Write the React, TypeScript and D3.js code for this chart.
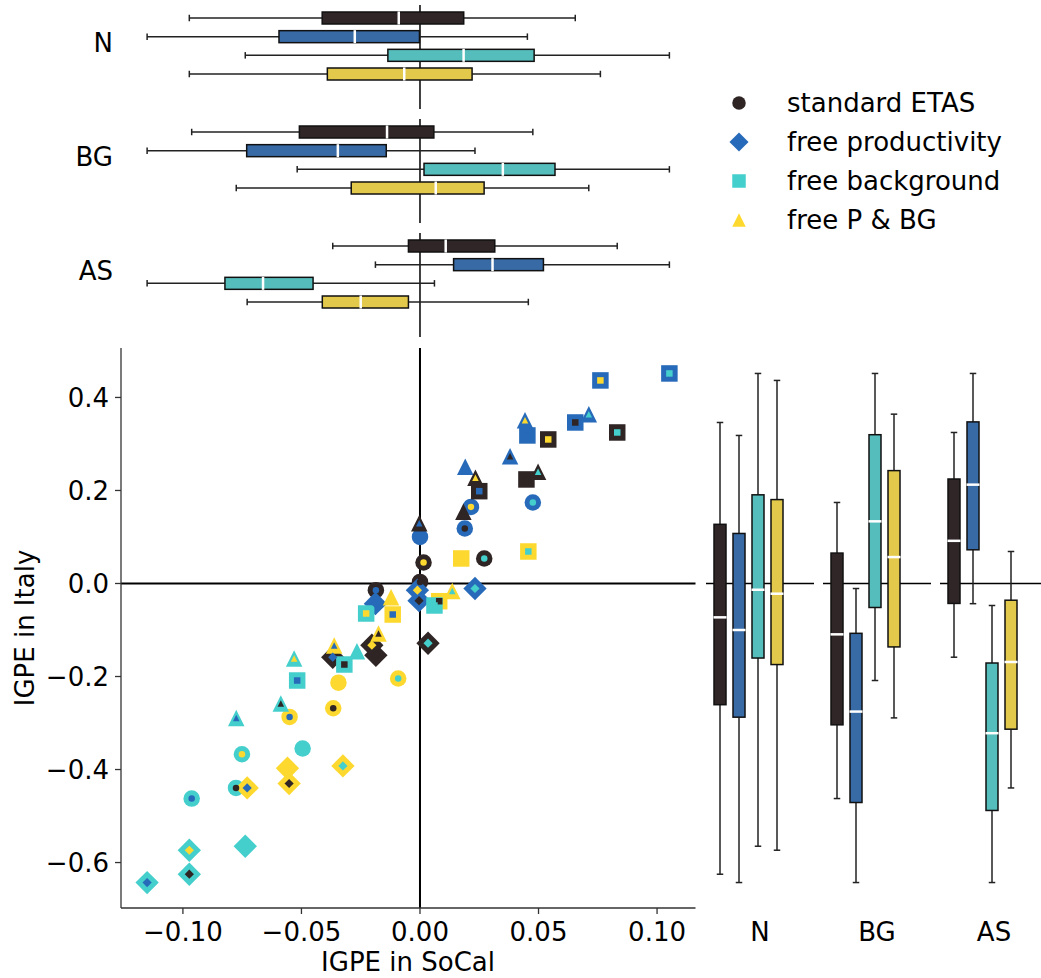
import React from "react";
import * as d3 from "d3";

// ---------------- data ----------------
const MODELS = ["standard ETAS", "free productivity", "free background", "free P & BG"];
const COMPONENTS = ["N", "BG", "AS"];

// model used for the background component -> marker shape
const bgModel = [
  0, 0, 0, 0, 0, 0, 0, 0, 0, 0, 0, 0, 0, 0, 0, 0,
  1, 1, 1, 1, 1, 1, 1, 1, 1, 1, 1, 1, 1, 1, 1, 1,
  2, 2, 2, 2, 2, 2, 2, 2, 2, 2, 2, 2, 2, 2, 2, 2,
  3, 3, 3, 3, 3, 3, 3, 3, 3, 3, 3, 3, 3, 3, 3, 3,
];
// model used for the aftershock component -> outer colour
const asModel = [
  0, 0, 0, 0, 1, 1, 1, 1, 2, 2, 2, 2, 3, 3, 3, 3,
  0, 0, 0, 0, 1, 1, 1, 1, 2, 2, 2, 2, 3, 3, 3, 3,
  0, 0, 0, 0, 1, 1, 1, 1, 2, 2, 2, 2, 3, 3, 3, 3,
  0, 0, 0, 0, 1, 1, 1, 1, 2, 2, 2, 2, 3, 3, 3, 3,
];
// model used for the number component -> inner colour
const nModel = [
  0, 1, 2, 3, 0, 1, 2, 3, 0, 1, 2, 3, 0, 1, 2, 3,
  0, 1, 2, 3, 0, 1, 2, 3, 0, 1, 2, 3, 0, 1, 2, 3,
  0, 1, 2, 3, 0, 1, 2, 3, 0, 1, 2, 3, 0, 1, 2, 3,
  0, 1, 2, 3, 0, 1, 2, 3, 0, 1, 2, 3, 0, 1, 2, 3,
];

const igpeSoCal = [
  0.0000, -0.0186, 0.0271, 0.0015, 0.0189, 0.0000, 0.0476, 0.0215,
  -0.0776, -0.0963, -0.0495, -0.0751, -0.0366, -0.0550, -0.0092, -0.0344,
  -0.0186, -0.0368, 0.0034, -0.0203, -0.0004, -0.0188, 0.0232, -0.0011,
  -0.0973, -0.1151, -0.0737, -0.0973, -0.0552, -0.0729, -0.0325, -0.0559,
  0.0449, 0.0250, 0.0832, 0.0541, 0.0655, 0.0453, 0.1052, 0.0761,
  -0.0319, -0.0518, 0.0061, -0.0227, 0.0081, -0.0115, 0.0457, 0.0174,
  0.0183, -0.0003, 0.0498, 0.0234, 0.0380, 0.0191, 0.0712, 0.0443,
  -0.0587, -0.0775, -0.0266, -0.0531, -0.0175, -0.0362, 0.0136, -0.0122,
];
const igpeItaly = [
  0.0034, -0.0144, 0.0538, 0.0452, 0.1183, 0.1002, 0.1742, 0.1647,
  -0.4396, -0.4624, -0.3548, -0.3671, -0.2682, -0.2869, -0.2043, -0.2133,
  -0.1542, -0.1585, -0.1284, -0.1327, -0.0370, -0.0434, -0.0108, -0.0144,
  -0.6251, -0.6430, -0.5649, -0.5735, -0.4301, -0.4396, -0.3923, -0.3972,
  0.2237, 0.1985, 0.3247, 0.3097, 0.3462, 0.3183, 0.4516, 0.4366,
  -0.1742, -0.2086, -0.0473, -0.0645, -0.0381, -0.0667, 0.0688, 0.0538,
  0.1540, 0.1297, 0.2400, 0.2275, 0.2738, 0.2508, 0.3641, 0.3512,
  -0.2581, -0.2890, -0.1456, -0.1613, -0.1075, -0.1333, -0.0161, -0.0295,
];

const xTicks = [-0.1, -0.05, 0, 0.05, 0.1];
const yTicks = [-0.6, -0.4, -0.2, 0, 0.2, 0.4];

// ---------------- styles ----------------
const MARKER_COLORS = ["#2f2525", "#276ab9", "#45cfcc", "#fdd92f"];
const BOX_COLORS = ["#302627", "#386ba6", "#55bdbb", "#e3c94b"];
const FONT = "DejaVu Sans, Verdana, sans-serif";
const FS = 26;

function markerPath(shape: number, d: number): string {
  const p = d3.path();
  const h = d / 2;
  if (shape === 0) {
    p.moveTo(h, 0);
    p.arc(0, 0, h, 0, 2 * Math.PI);
  } else if (shape === 1) {
    const r = h * Math.SQRT2;
    p.moveTo(0, -r);
    p.lineTo(r, 0);
    p.lineTo(0, r);
    p.lineTo(-r, 0);
    p.closePath();
  } else if (shape === 2) {
    p.rect(-h, -h, d, d);
  } else {
    p.moveTo(0, -h);
    p.lineTo(h, h);
    p.lineTo(-h, h);
    p.closePath();
  }
  return p.toString();
}

function boxStats(vals: number[]) {
  const s = vals.slice().sort(d3.ascending);
  return {
    min: s[0],
    q1: d3.quantile(s, 0.25) as number,
    med: d3.quantile(s, 0.5) as number,
    q3: d3.quantile(s, 0.75) as number,
    max: s[s.length - 1],
  };
}

export default function App() {
  const [xmin, xmax] = d3.extent(igpeSoCal) as [number, number];
  const [ymin, ymax] = d3.extent(igpeItaly) as [number, number];
  const px = (xmax - xmin) * 0.05;
  const py = (ymax - ymin) * 0.05;
  const x = d3.scaleLinear().domain([xmin - px, xmax + px]).range([121, 695.5]);
  const y = d3.scaleLinear().domain([ymin - py, ymax + py]).range([908, 348]);

  const compModels = [nModel, bgModel, asModel];
  const idx = d3.range(igpeSoCal.length);
  const drawOrder = idx
    .slice()
    .sort((a, b) => bgModel[a] - bgModel[b] || nModel[a] - nModel[b] || asModel[a] - asModel[b]);

  const topGroupTop = [5, 119, 233];
  const topGroupH = 104;
  const rowPos = d3.scaleLinear().domain([0, 3]).range([13, 69]);
  const rightGroupLeft = [706, 823, 940];
  const rightGroupW = 108;
  const colPos = d3.scaleLinear().domain([0, 3]).range([14, 71]);
  const boxT = 12;
  const cap = 6.5;

  const fmtX = d3.format(".2f");
  const fmtY = d3.format(".1f");

  const OUT = 16.5;
  const IN = 6.5;

  return (
    <svg
      width={1041}
      height={978}
      style={{ position: "absolute", left: 0, top: 0, background: "#fff" }}
      fontFamily={FONT}
    >
      <rect width={1041} height={978} fill="#fff" />

      {/* ---------- top box plots (SoCal) ---------- */}
      {COMPONENTS.map((comp, c) => {
        const top = topGroupTop[c];
        return (
          <g key={"top" + comp}>
            <line x1={x(0)} x2={x(0)} y1={top} y2={top + topGroupH} stroke="#000" strokeWidth={1.5} />
            <text x={113} y={top + 47} fontSize={FS} textAnchor="end" fill="#000">
              {comp}
            </text>
            {MODELS.map((_, m) => {
              const vals = idx.filter((i) => compModels[c][i] === m).map((i) => igpeSoCal[i]);
              const s = boxStats(vals);
              const cy = top + rowPos(m);
              return (
                <g key={m}>
                  <line x1={x(s.min)} x2={x(s.q1)} y1={cy} y2={cy} stroke="#222" strokeWidth={1.5} />
                  <line x1={x(s.q3)} x2={x(s.max)} y1={cy} y2={cy} stroke="#222" strokeWidth={1.5} />
                  <line x1={x(s.min)} x2={x(s.min)} y1={cy - cap / 2} y2={cy + cap / 2} stroke="#222" strokeWidth={1.5} />
                  <line x1={x(s.max)} x2={x(s.max)} y1={cy - cap / 2} y2={cy + cap / 2} stroke="#222" strokeWidth={1.5} />
                  <rect
                    x={x(s.q1)}
                    y={cy - boxT / 2}
                    width={x(s.q3) - x(s.q1)}
                    height={boxT}
                    fill={BOX_COLORS[m]}
                    stroke="#111"
                    strokeWidth={1.5}
                  />
                  <line x1={x(s.med)} x2={x(s.med)} y1={cy - boxT / 2 - 0.5} y2={cy + boxT / 2 + 0.5} stroke="#fff" strokeWidth={2.5} />
                </g>
              );
            })}
          </g>
        );
      })}

      {/* ---------- right box plots (Italy) ---------- */}
      {COMPONENTS.map((comp, c) => {
        const left = rightGroupLeft[c];
        return (
          <g key={"right" + comp}>
            <line x1={left} x2={left + rightGroupW} y1={y(0)} y2={y(0)} stroke="#000" strokeWidth={1.5} />
            <text x={left + 54} y={941} fontSize={FS} textAnchor="middle" fill="#000">
              {comp}
            </text>
            {MODELS.map((_, m) => {
              const vals = idx.filter((i) => compModels[c][i] === m).map((i) => igpeItaly[i]);
              const s = boxStats(vals);
              const cx = left + colPos(m);
              return (
                <g key={m}>
                  <line x1={cx} x2={cx} y1={y(s.min)} y2={y(s.q1)} stroke="#222" strokeWidth={1.5} />
                  <line x1={cx} x2={cx} y1={y(s.q3)} y2={y(s.max)} stroke="#222" strokeWidth={1.5} />
                  <line x1={cx - cap / 2} x2={cx + cap / 2} y1={y(s.min)} y2={y(s.min)} stroke="#222" strokeWidth={1.5} />
                  <line x1={cx - cap / 2} x2={cx + cap / 2} y1={y(s.max)} y2={y(s.max)} stroke="#222" strokeWidth={1.5} />
                  <rect
                    x={cx - boxT / 2}
                    y={y(s.q3)}
                    width={boxT}
                    height={y(s.q1) - y(s.q3)}
                    fill={BOX_COLORS[m]}
                    stroke="#111"
                    strokeWidth={1.5}
                  />
                  <line x1={cx - boxT / 2 - 0.5} x2={cx + boxT / 2 + 0.5} y1={y(s.med)} y2={y(s.med)} stroke="#fff" strokeWidth={2.5} />
                </g>
              );
            })}
          </g>
        );
      })}

      {/* ---------- scatter ---------- */}
      <line x1={x.range()[0]} x2={x.range()[1]} y1={y(0)} y2={y(0)} stroke="#000" strokeWidth={2} />
      <line x1={x(0)} x2={x(0)} y1={y.range()[1]} y2={y.range()[0]} stroke="#000" strokeWidth={2} />

      {drawOrder.map((i) => (
        <path
          key={"o" + i}
          d={markerPath(bgModel[i], OUT)}
          transform={`translate(${x(igpeSoCal[i])},${y(igpeItaly[i])})`}
          fill={MARKER_COLORS[asModel[i]]}
        />
      ))}
      {drawOrder.map((i) => (
        <path
          key={"i" + i}
          d={markerPath(bgModel[i], IN)}
          transform={`translate(${x(igpeSoCal[i])},${y(igpeItaly[i])})`}
          fill={MARKER_COLORS[nModel[i]]}
        />
      ))}

      {/* axes */}
      <line x1={x.range()[0]} x2={x.range()[0]} y1={y.range()[1]} y2={y.range()[0]} stroke="#333" strokeWidth={1.3} />
      <line x1={x.range()[0]} x2={x.range()[1]} y1={y.range()[0]} y2={y.range()[0]} stroke="#333" strokeWidth={1.3} />
      {xTicks.map((t) => (
        <g key={"xt" + t}>
          <line x1={x(t)} x2={x(t)} y1={908} y2={914} stroke="#333" strokeWidth={1.3} />
          <text x={x(t)} y={941} fontSize={FS} textAnchor="middle" fill="#000">
            {fmtX(t)}
          </text>
        </g>
      ))}
      {yTicks.map((t) => (
        <g key={"yt" + t}>
          <line x1={115} x2={121} y1={y(t)} y2={y(t)} stroke="#333" strokeWidth={1.3} />
          <text x={109} y={y(t) + 9.5} fontSize={FS} textAnchor="end" fill="#000">
            {fmtY(t)}
          </text>
        </g>
      ))}
      <text x={408} y={971} fontSize={FS} textAnchor="middle" fill="#000">
        IGPE in SoCal
      </text>
      <text transform="translate(34,628) rotate(-90)" fontSize={FS} textAnchor="middle" fill="#000">
        IGPE in Italy
      </text>

      {/* legend */}
      {MODELS.map((name, m) => {
        const ly = 103 + m * 39;
        return (
          <g key={"lg" + m}>
            <path d={markerPath(m, 13.5)} transform={`translate(739,${ly})`} fill={MARKER_COLORS[m]} />
            <text x={787} y={ly + 8.5} fontSize={FS} fill="#000">
              {name}
            </text>
          </g>
        );
      })}
    </svg>
  );
}
